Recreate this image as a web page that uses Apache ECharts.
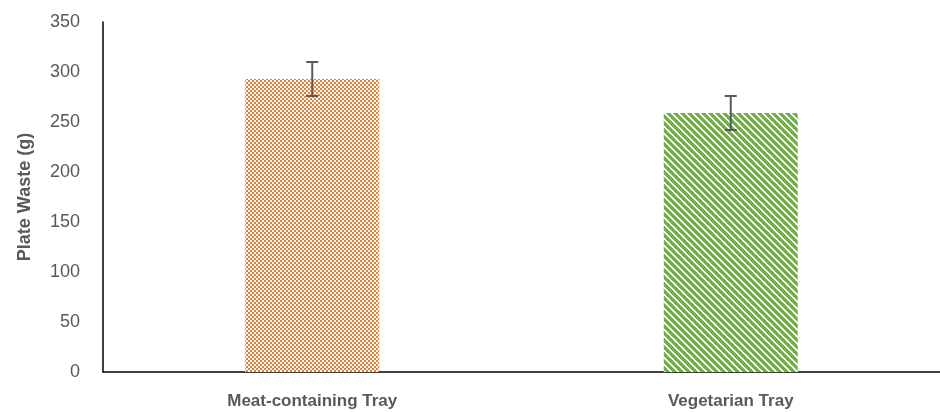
<!DOCTYPE html>
<html><head><meta charset="utf-8">
<script src="https://cdn.jsdelivr.net/npm/echarts@6/dist/echarts.min.js"></script>
<style>html,body{margin:0;padding:0;background:#fff}#c{width:940px;height:412px}</style>
</head><body><div id="c"></div>
<script>
const categories = ['Meat-containing Tray', 'Vegetarian Tray'];
const values = [293, 259];
const errors = [17, 17];
const yTicks = [0, 50, 100, 150, 200, 250, 300, 350];

function checker() {
  const c = document.createElement('canvas'); c.width = 4; c.height = 4;
  const g = c.getContext('2d');
  g.fillStyle = '#fff'; g.fillRect(0, 0, 4, 4);
  g.fillStyle = '#ED7D31'; g.fillRect(0, 0, 2, 2); g.fillRect(2, 2, 2, 2);
  return c;
}
function stripes() {
  const n = 7;
  const c = document.createElement('canvas'); c.width = n; c.height = n;
  const g = c.getContext('2d');
  g.fillStyle = '#fff'; g.fillRect(0, 0, n, n);
  for (let x = 0; x < n; x++) for (let y = 0; y < n; y++) {
    const d = ((x - y) % n + n) % n;
    if (d < 5) { g.fillStyle = d === 0 || d === 4 ? '#8CC06A' : '#70AD47'; g.fillRect(x, y, 1, 1); }
  }
  return c;
}
const fills = [{ image: checker(), repeat: 'repeat' }, { image: stripes(), repeat: 'repeat' }];

const chart = echarts.init(document.getElementById('c'));
chart.setOption({
  animation: false,
  grid: { left: 103, width: 842, top: 22, bottom: 40 },
  xAxis: {
    type: 'category', data: categories,
    axisLine: { lineStyle: { color: '#000', width: 1.5 } },
    axisTick: { show: false },
    axisLabel: { color: '#595959', fontSize: 17, fontWeight: 'bold', margin: 21, fontFamily: 'Liberation Sans' }
  },
  yAxis: {
    type: 'value', min: 0, max: 350, interval: 50,
    name: 'Plate Waste (g)', nameLocation: 'middle', nameGap: 69,
    nameTextStyle: { color: '#595959', fontSize: 18, fontWeight: 'bold', fontFamily: 'Liberation Sans' },
    axisLine: { show: true, lineStyle: { color: '#000', width: 1.5 } },
    axisTick: { show: false },
    splitLine: { show: false },
    axisLabel: { color: '#595959', fontSize: 18, margin: 23, fontFamily: 'Liberation Sans',
      formatter: v => yTicks.includes(v) ? String(v) : '' }
  },
  series: [
    {
      type: 'bar', barWidth: 134,
      data: values.map((v, i) => ({ value: v, itemStyle: { color: fills[i] } }))
    },
    {
      type: 'custom', z: 10,
      data: values.map((v, i) => [i, v - errors[i], v + errors[i]]),
      renderItem: (params, api) => {
        const lo = api.coord([api.value(0), api.value(1)]);
        const hi = api.coord([api.value(0), api.value(2)]);
        const w = 6;
        const st = { stroke: '#595959', lineWidth: 2, fill: null };
        return { type: 'group', children: [
          { type: 'line', shape: { x1: hi[0], y1: hi[1], x2: lo[0], y2: lo[1] }, style: st },
          { type: 'line', shape: { x1: hi[0] - w, y1: hi[1], x2: hi[0] + w, y2: hi[1] }, style: st },
          { type: 'line', shape: { x1: lo[0] - w, y1: lo[1], x2: lo[0] + w, y2: lo[1] }, style: st }
        ]};
      }
    }
  ]
});
</script></body></html>
